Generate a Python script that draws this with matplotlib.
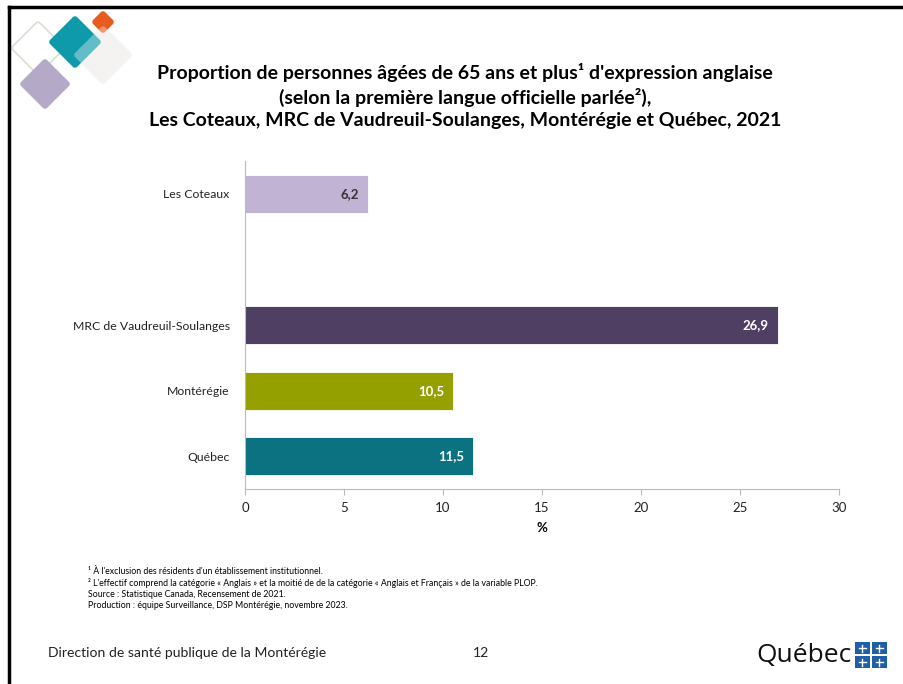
import matplotlib
matplotlib.use('Agg')
import matplotlib.pyplot as plt
from matplotlib.patches import FancyBboxPatch, Rectangle
from matplotlib.transforms import Affine2D

plt.rcParams['font.family'] = ['Lato', 'DejaVu Sans']

# ---------------------------------------------------------
# Data
# ---------------------------------------------------------
categories = ['Les Coteaux', '', 'MRC de Vaudreuil-Soulanges', 'Montérégie', 'Québec']
values = [6.2, None, 26.9, 10.5, 11.5]
bar_colors = ['#C1B3D3', None, '#4E3F63', '#949F00', '#0B7282']
label_colors = ['#333333', None, 'white', 'white', 'white']
xticks = [0, 5, 10, 15, 20, 25, 30]

title = ("Proportion de personnes âgées de 65 ans et plus¹ d'expression anglaise\n"
         "(selon la première langue officielle parlée²),\n"
         "Les Coteaux, MRC de Vaudreuil-Soulanges, Montérégie et Québec, 2021")
notes = ["¹ À l'exclusion des résidents d'un établissement institutionnel.",
         "² L'effectif comprend la catégorie « Anglais » et la moitié de de la catégorie « Anglais et Français » de la variable PLOP.",
         "Source : Statistique Canada, Recensement de 2021.",
         "Production : équipe Surveillance, DSP Montérégie, novembre 2023."]

W, H = 904, 684
fig = plt.figure(figsize=(W / 100, H / 100), dpi=100)

# ---------------------------------------------------------
# Bar chart
# ---------------------------------------------------------
ax = fig.add_axes([245 / W, 1 - 489 / H, (839 - 245) / W, (489 - 161) / H])
for i, (v, c, lc) in enumerate(zip(values, bar_colors, label_colors)):
    if v is None:
        continue
    ax.barh(i, v, height=0.58, color=c, edgecolor='white', linewidth=0.6)
    ax.text(v - 0.45, i, f"{v:.1f}".replace('.', ','), ha='right', va='center',
            color=lc, fontsize=9.5, fontweight='bold')

ax.set_ylim(4.5, -0.5)
ax.set_xlim(0, 30)
ax.set_yticks(range(len(categories)))
ax.set_yticklabels(categories, fontsize=8.8, color='#222222')
ax.tick_params(axis='y', length=0, pad=11)
ax.set_xticks(xticks)
ax.set_xticklabels([str(t) for t in xticks], fontsize=9.5, color='#222222')
ax.tick_params(axis='x', length=4, color='#BBBBBB', pad=5)
for s in ['top', 'right']:
    ax.spines[s].set_visible(False)
ax.spines['left'].set_color('#BBBBBB')
ax.spines['bottom'].set_color('#BBBBBB')
ax.set_xlabel('%', fontsize=9.5, fontweight='bold', labelpad=6)

# ---------------------------------------------------------
# Page overlay (pixel coordinates)
# ---------------------------------------------------------
ov = fig.add_axes([0, 0, 1, 1], zorder=-1)
ov.set_xlim(0, W)
ov.set_ylim(H, 0)
ov.axis('off')

# frame (top and left edges)
ov.plot([9, W], [7, 7], color='black', lw=2.5)
ov.plot([9, 9], [7, H], color='black', lw=2.5)


def diamond(cx, cy, half, fc, ec='none', alpha=1.0, lw=0):
    side = half * 1.414
    p = FancyBboxPatch((cx - side / 2, cy - side / 2), side, side,
                       boxstyle='round,pad=0,rounding_size=3',
                       fc=fc, ec=ec, lw=lw, alpha=alpha)
    p.set_transform(Affine2D().rotate_deg_around(cx, cy, 45) + ov.transData)
    ov.add_patch(p)


diamond(38, 48, 27, 'none', ec='#D9DFD2', lw=1.2)
diamond(45, 84, 26, '#B4AAC8')
diamond(103, 55, 30, '#F1EEEC')
diamond(75, 42, 27, '#0E9AAA')
diamond(103, 22, 12, '#E85B1E')
# translucent overlap of the light square on the teal square
diamond(103, 55, 30, '#FFFFFF', alpha=0.35)

ov.text(465, 96, title, ha='center', va='center', fontsize=14, fontweight='bold',
        color='black', linespacing=1.35)

for k, line in enumerate(notes):
    ov.text(88, 572 + k * 11.3, line, ha='left', va='center', fontsize=6.3, color='black')

ov.text(48, 653, 'Direction de santé publique de la Montérégie', ha='left', va='center',
        fontsize=10.1, color='#222222')
ov.text(481, 653, '12', ha='center', va='center', fontsize=10.1, color='#222222')

# Québec logo
ov.text(804, 655, 'Québec', ha='center', va='center', fontsize=19, color='#111111',
        family='Open Sans')
for (x0, y0) in [(855, 642), (872, 642), (855, 656), (872, 656)]:
    ov.add_patch(Rectangle((x0, y0), 15, 12, fc='#1F5FA8', ec='none'))
    ov.plot([x0 + 7.5, x0 + 7.5], [y0 + 2.5, y0 + 9.5], color='white', lw=1)
    ov.plot([x0 + 4, x0 + 11], [y0 + 6, y0 + 6], color='white', lw=1)

fig.savefig('out.png', dpi=100)
